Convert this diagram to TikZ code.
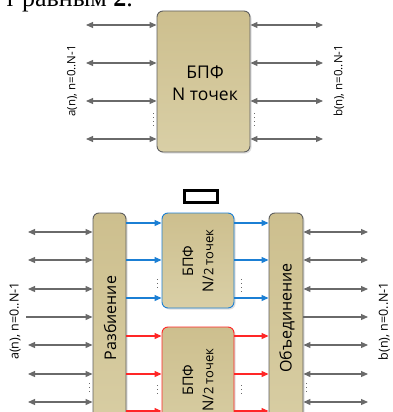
\documentclass[tikz,border=0pt]{standalone}
\usepackage{fontspec}
\setmainfont{Open Sans}
\newfontfamily\serifdoc{Liberation Serif}
\usetikzlibrary{arrows.meta,shadows}
\definecolor{tanA}{HTML}{CDBF8E}
\definecolor{tanB}{HTML}{D9CFA6}
\definecolor{edgegray}{HTML}{5E5E5E}
\definecolor{argray}{HTML}{6A6A6A}
\definecolor{fftblue}{HTML}{1B7FD4}
\definecolor{fftred}{HTML}{FF2626}
\tikzset{
  tanbox/.style={draw=edgegray, line width=0.9pt, rounded corners=6pt,
    top color=tanA, bottom color=tanB, inner sep=0pt,
    drop shadow={shadow xshift=1.5pt, shadow yshift=-1.5pt, fill=black!25, opacity=0.5}},
  bluebox/.style={tanbox, draw=fftblue},
  redbox/.style={tanbox, draw=fftred},
  garrow/.style={draw=argray, line width=1.1pt, {Triangle[length=7pt,width=6pt]}-{Triangle[length=7pt,width=6pt]}},
  gline/.style={draw=argray, line width=1.1pt, -{Triangle[length=7pt,width=6pt]}},
  barrow/.style={draw=fftblue, line width=1.1pt, -{Triangle[length=7pt,width=6pt]}},
  rarrow/.style={draw=fftred, line width=1.1pt, -{Triangle[length=7pt,width=6pt]}},
  vdots/.style={draw=argray, line width=1pt, dash pattern=on 1pt off 3pt},
  sidelabel/.style={rotate=90, font=\fontsize{11.5}{12}\selectfont, inner sep=0pt},
  bartext/.style={rotate=90, font=\fontsize{16}{18}\selectfont, inner sep=0pt},
}
\begin{document}
\begin{tikzpicture}[x=1pt,y=-1pt]
\useasboundingbox (0,0) rectangle (392,412);
% clipped document text at the top
\node[anchor=base east, inner sep=0pt, font=\serifdoc\fontsize{26}{28}\selectfont] (doctext) at (133,6.5) {т равным \textbf{2}.};

% ===== top diagram =====
\node[tanbox, minimum width=93pt, minimum height=141pt] (fft) at (203.5,81.5) {};
\node[align=center, font=\fontsize{17.5}{22}\selectfont, inner sep=0pt] (fftlabel) at (205,83) {БПФ\\N точек};
\foreach \i/\y in {1/25,2/63,3/101,4/139}{
  \coordinate (tl\i) at (86,\y);
  \coordinate (tr\i) at (323,\y);
  \draw[garrow] (tl\i) -- (tl\i -| fft.west);
  \draw[garrow] (tr\i -| fft.east) -- (tr\i);
}
\coordinate (td1) at (153,113); \coordinate (td2) at (153,127);
\draw[vdots] (td1) -- (td2);
\coordinate (td3) at (254,113); \coordinate (td4) at (254,127);
\draw[vdots] (td3) -- (td4);
\node[sidelabel] (atop) at (72,81) {a(n), n=0..N-1};
\node[sidelabel] (btop) at (339,81) {b(n), n=0..N-1};

% separator marker
\node[draw=black, line width=3pt, minimum width=33pt, minimum height=12pt, inner sep=0pt] (marker) at (200.5,196) {};

% ===== bottom diagram =====
\node[tanbox, minimum width=33pt, minimum height=240pt] (razb) at (109.5,333) {};
\node[tanbox, minimum width=34pt, minimum height=240pt] (obed) at (286,333) {};
\node[bluebox, minimum width=72pt, minimum height=95pt] (fftA) at (198,260.5) {};
\node[redbox, minimum width=72pt, minimum height=120pt] (fftB) at (198,387) {};
\node[bartext] (razbt) at (110,318) {Разбиение};
\node[bartext] (obedt) at (287,318) {Объединение};
\foreach \b/\y in {A/261,B/380}{
  \node[rotate=90, font=\fontsize{14.5}{16}\selectfont, inner sep=0pt] (bpf\b) at (188,\y) {БПФ};
  \node[rotate=90, font=\fontsize{15}{16}\selectfont, inner sep=0pt] (np\b) at (208,\y) {N/{\fontsize{13}{14}\selectfont 2 точек}};
}
% outer arrows
\foreach \i/\y in {1/232,2/260,3/289,5/345,6/374,7/402}{
  \coordinate (bl\i) at (28,\y);
  \coordinate (br\i) at (368,\y);
  \draw[garrow] (bl\i) -- (bl\i -| razb.west);
  \draw[garrow] (br\i -| obed.east) -- (br\i);
}
\coordinate (bl4) at (26,317);
\coordinate (br4) at (368,317);
\draw[gline] (bl4) -- (bl4 -| razb.west);
\draw[gline] (br4 -| obed.east) -- (br4);
% inner arrows
\foreach \i/\y in {1/223,2/260,3/298}{
  \coordinate (ub\i) at (0,\y);
  \draw[barrow] (ub\i -| razb.east) -- (ub\i -| fftA.west);
  \draw[barrow] (ub\i -| fftA.east) -- (ub\i -| obed.west);
}
\foreach \i/\y in {1/336,2/374,3/411}{
  \coordinate (ur\i) at (0,\y);
  \draw[rarrow] (ur\i -| razb.east) -- (ur\i -| fftB.west);
  \draw[rarrow] (ur\i -| fftB.east) -- (ur\i -| obed.west);
}
% dots
\foreach \n/\x/\ya/\yb in {d1/157/279/290, d2/241/279/292, d3/157/385/397, d4/241/385/397, d5/89/383/394, d6/306/383/395}{
  \coordinate (\n a) at (\x,\ya); \coordinate (\n b) at (\x,\yb);
  \draw[vdots] (\n a) -- (\n b);
}
\node[sidelabel, font=\fontsize{12.5}{13}\selectfont] (abot) at (15,321) {a(n), n=0..N-1};
\node[sidelabel, font=\fontsize{12.5}{13}\selectfont] (bbot) at (384,321) {b(n), n=0..N-1};
\end{tikzpicture}
\end{document}
